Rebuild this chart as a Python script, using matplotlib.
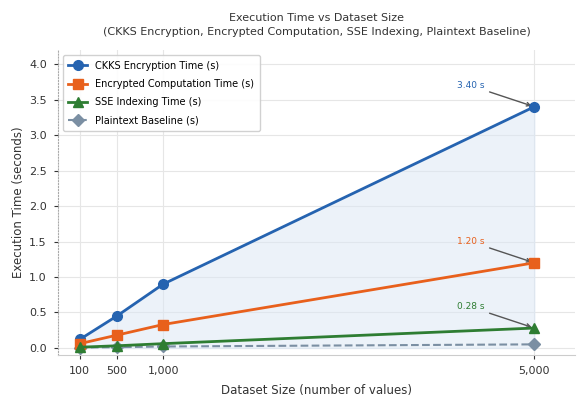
import matplotlib
matplotlib.use("Agg")
import matplotlib.pyplot as plt
from matplotlib.ticker import FuncFormatter

sizes = [100, 500, 1000, 5000]
ckks = [0.12, 0.45, 0.90, 3.40]
enc_comp = [0.06, 0.18, 0.33, 1.20]
sse = [0.01, 0.03, 0.06, 0.28]
plain = [0.005, 0.01, 0.02, 0.05]
tick_labels = ["100", "500", "1,000", "5,000"]

c_blue = "#2563b0"
c_orange = "#e8601c"
c_green = "#2e7d32"
c_gray = "#7b8fa3"

plt.rcParams['font.family'] = ['DejaVu Sans']
fig = plt.figure(figsize=(5.78, 4.0), dpi=100)
ax = fig.add_axes([0.100, 0.1125, 0.895, 0.7625])

ax.fill_between(sizes, 0, ckks, color="#dbe7f5", alpha=0.5, zorder=1)
ax.plot(sizes, ckks, '-o', color=c_blue, lw=2, ms=7, label="CKKS Encryption Time (s)", zorder=4)
ax.plot(sizes, enc_comp, '-s', color=c_orange, lw=2, ms=7, label="Encrypted Computation Time (s)", zorder=4)
ax.plot(sizes, sse, '-^', color=c_green, lw=2, ms=7, label="SSE Indexing Time (s)", zorder=4)
ax.plot(sizes, plain, '--D', color=c_gray, lw=1.5, ms=6, label="Plaintext Baseline (s)", zorder=3)

for vals, col in [(ckks, c_blue), (enc_comp, c_orange), (sse, c_green)]:
    ax.annotate(f"{vals[-1]:.2f} s", xy=(sizes[-1], vals[-1]), xytext=(-46, 12),
                textcoords='offset points', ha='center', va='bottom', fontsize=6.5, color=col,
                arrowprops=dict(arrowstyle='->', color='#555555', lw=1))

ax.set_xlim(-137, 5440)
ax.set_ylim(-0.1, 4.2)
ax.set_xticks(sizes)
ax.set_xticklabels(tick_labels)
ax.set_yticks([0, 0.5, 1.0, 1.5, 2.0, 2.5, 3.0, 3.5, 4.0])
ax.yaxis.set_major_formatter(FuncFormatter(lambda v, p: f"{v:.1f}"))
ax.tick_params(labelsize=8, colors='#333333', length=3, width=0.8, pad=5)
ax.grid(True, color='#e6e6e6', lw=0.8)
ax.set_axisbelow(True)
for s in ['top', 'right']:
    ax.spines[s].set_visible(False)
ax.spines['left'].set_linestyle(':')
ax.spines['left'].set_color('#aaaaaa')
ax.spines['bottom'].set_color('#cccccc')

ax.set_xlabel("Dataset Size (number of values)", fontsize=8.5, color='#333333', labelpad=6)
ax.set_ylabel("Execution Time (seconds)", fontsize=8.5, color='#333333', labelpad=3)
ax.set_title("Execution Time vs Dataset Size\n(CKKS Encryption, Encrypted Computation, SSE Indexing, Plaintext Baseline)",
             fontsize=8, color='#333333', pad=11, linespacing=1.45)
ax.legend(loc='upper left', fontsize=7, frameon=True, framealpha=0.9, edgecolor='#cccccc',
          borderpad=0.6, handlelength=1.9, labelspacing=0.85)

fig.savefig("out.png", dpi=100)
